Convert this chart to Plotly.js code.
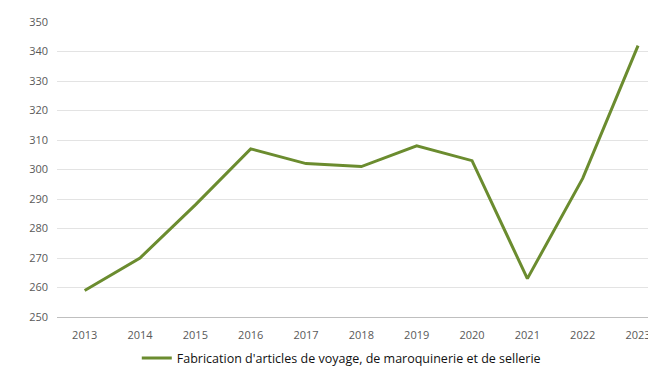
<!DOCTYPE html>
<html>
<head>
<meta charset="utf-8">
<script src="https://cdn.plot.ly/plotly-3.0.1.min.js"></script>
<style>
html,body{margin:0;padding:0;background:#fff;overflow:hidden;}
#chart{width:648px;height:366px;}
</style>
</head>
<body>
<div id="chart"></div>
<script>
const years = ["2013","2014","2015","2016","2017","2018","2019","2020","2021","2022","2023"];
const values = [259, 270, 288, 307, 302, 301, 308, 303, 263, 297, 342];
const seriesName = "Fabrication d'articles de voyage, de maroquinerie et de sellerie";
const yTicks = [250, 260, 270, 280, 290, 300, 310, 320, 330, 340, 350];

const trace = {
  x: years,
  y: values,
  type: 'scatter',
  mode: 'lines',
  name: seriesName,
  line: {color: '#6b8c2f', width: 3},
  cliponaxis: false
};

const layout = {
  width: 648,
  height: 366,
  margin: {l: 57, r: 0, t: 22, b: 49, autoexpand: false},
  paper_bgcolor: '#ffffff',
  plot_bgcolor: '#ffffff',
  showlegend: true,
  legend: {
    orientation: 'h',
    x: 0.135, xanchor: 'left',
    y: -0.14, yanchor: 'middle',
    font: {family: 'Open Sans, sans-serif', size: 12.5, color: '#111111'},
    itemwidth: 30
  },
  xaxis: {
    type: 'category',
    range: [-0.5, 10.18],
    showgrid: false,
    showline: true,
    linecolor: '#bfbfbf',
    linewidth: 1,
    ticks: '',
    ticklabelstandoff: 8,
    tickfont: {family: 'Open Sans, sans-serif', size: 11, color: '#595959'},
    fixedrange: true
  },
  yaxis: {
    range: [250, 350],
    tickvals: yTicks,
    ticktext: yTicks.map(String),
    showgrid: true,
    gridcolor: '#e3e3e3',
    gridwidth: 1,
    zeroline: false,
    showline: false,
    ticks: '',
    ticklabelstandoff: 8,
    tickfont: {family: 'Open Sans, sans-serif', size: 11, color: '#595959'},
    fixedrange: true
  }
};

Plotly.newPlot('chart', [trace], layout, {displayModeBar: false, staticPlot: true});
</script>
</body>
</html>
